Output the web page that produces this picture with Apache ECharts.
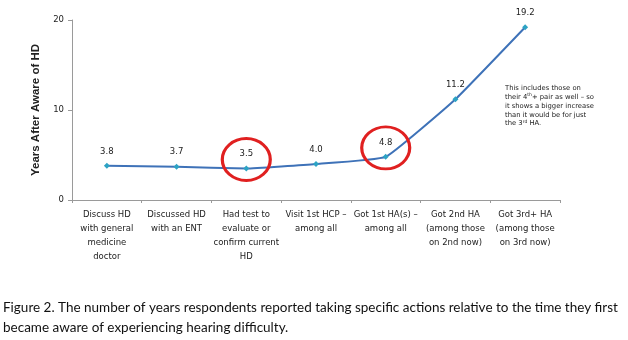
<!DOCTYPE html>
<html><head><meta charset="utf-8">
<script src="https://cdn.jsdelivr.net/npm/echarts@6/dist/echarts.min.js"></script>
<style>html,body{margin:0;padding:0;background:#fff}#c{width:628px;height:340px}</style>
</head><body><div id="c"></div>
<script>
var categories = [
  "Discuss HD\nwith general\nmedicine\ndoctor",
  "Discussed HD\nwith an ENT",
  "Had test to\nevaluate or\nconfirm current\nHD",
  "Visit 1st HCP –\namong all",
  "Got 1st HA(s) –\namong all",
  "Got 2nd HA\n(among those\non 2nd now)",
  "Got 3rd+ HA\n(among those\non 3rd now)"
];
var years = [3.8, 3.7, 3.5, 4.0, 4.8, 11.2, 19.2];
var yTicks = [0, 10, 20];
var highlighted = [2, 4];
var yTitle = "Years After Aware of HD";
var noteLines = ["This includes those on", "their 4{sup|th}+ pair as well – so", "it shows a bigger increase", "than it would be for just", "the 3{sup|rd} HA."];
var captionLines = ["Figure 2. The number of years respondents reported taking specific actions relative to the time they first", "became aware of experiencing hearing difficulty."];

var chart = echarts.init(document.getElementById('c'), null, {renderer: 'canvas'});
var markData = highlighted.map(function (i) {
  return {coord: [i, years[i] + 1.0]};
});
chart.setOption({
  animation: false,
  grid: {left: 72, right: 68, top: 20, bottom: 140},
  xAxis: {
    type: 'category',
    data: categories,
    axisLine: {lineStyle: {color: '#9a9a9a', width: 1}},
    axisTick: {show: true, length: 3, lineStyle: {color: '#9a9a9a'}},
    axisLabel: {interval: 0, color: '#222', fontFamily: 'DejaVu Sans', fontSize: 8.5, lineHeight: 14, margin: 8}
  },
  yAxis: {
    type: 'value', min: yTicks[0], max: yTicks[yTicks.length - 1], interval: 10,
    name: yTitle, nameLocation: 'middle', nameGap: 28, nameRotate: 90,
    nameTextStyle: {fontFamily: 'Liberation Sans', fontWeight: 'bold', fontSize: 11.5, color: '#222'},
    axisLine: {show: true, lineStyle: {color: '#9a9a9a'}},
    axisTick: {show: true, length: 4, lineStyle: {color: '#9a9a9a'}},
    splitLine: {show: false},
    axisLabel: {color: '#222', fontFamily: 'DejaVu Sans', fontSize: 8.5, margin: 8}
  },
  series: [{
    type: 'line', data: years, smooth: 0.1,
    symbol: 'diamond', symbolSize: 6,
    lineStyle: {color: '#3e72b8', width: 2},
    itemStyle: {color: '#2da3c4'},
    label: {show: true, position: 'top', distance: 7, color: '#222', fontFamily: 'DejaVu Sans', fontSize: 8.5,
      formatter: function (p) { return p.value.toFixed(1); }},
    markPoint: {
      symbol: 'circle', symbolSize: [48, 42], silent: true,
      itemStyle: {color: 'rgba(0,0,0,0)', borderColor: '#e02020', borderWidth: 3},
      label: {show: false},
      data: markData
    }
  }],
  graphic: [
    {type: 'text', left: 505, top: 84, style: {
      text: noteLines.join('\n'), fontFamily: 'DejaVu Sans', fontSize: 6.8, lineHeight: 8.8, fill: '#222',
      rich: {sup: {fontSize: 4.5, verticalAlign: 'top', fill: '#222', fontFamily: 'DejaVu Sans'}}
    }},
    {type: 'text', left: 3, top: 298, style: {
      text: captionLines.join('\n'), fontFamily: 'Lato', fontSize: 13.5, lineHeight: 20, fill: '#111'
    }}
  ]
});
</script></body></html>
